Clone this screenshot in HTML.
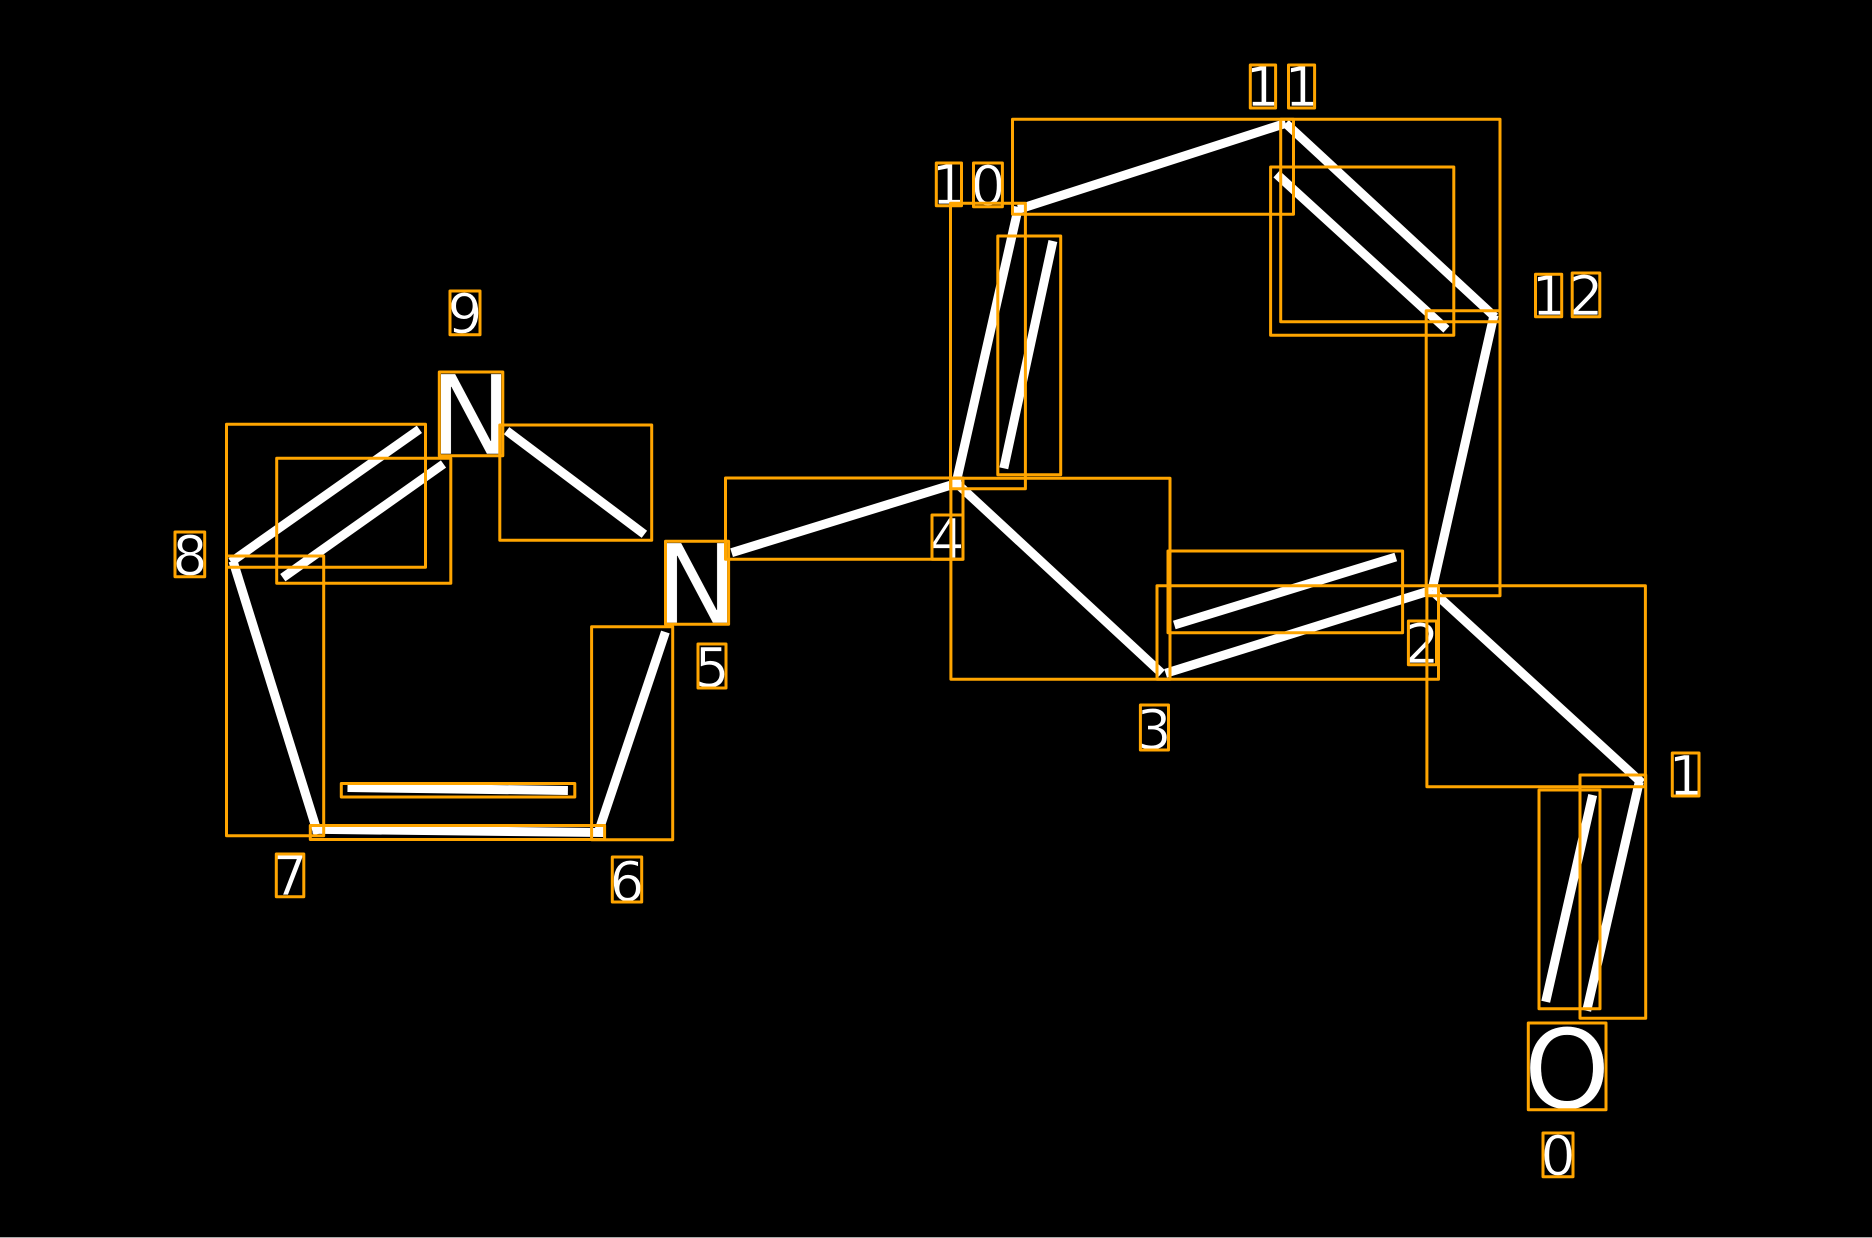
<!DOCTYPE html>
<html><head><meta charset="utf-8"><style>
html,body{margin:0;padding:0;background:#000;width:1872px;height:1238px;overflow:hidden}
svg{display:block}
text{font-family:"DejaVu Sans",sans-serif;fill:#fff;text-anchor:middle;text-rendering:geometricPrecision;stroke:#000}
.d{font-size:55px;stroke-width:.8}.a{font-size:110px;stroke-width:.5}
.b line{stroke:#fff;stroke-width:9;stroke-linecap:butt}
.r rect,.l rect{fill:none;stroke:#FFA500;stroke-width:3;stroke-linejoin:round}
</style></head><body>
<svg width="1872" height="1238" viewBox="0 0 1872 1238" xmlns="http://www.w3.org/2000/svg">
<rect width="1872" height="1238" fill="#000"/>
<rect y="1237" width="1872" height="1" fill="#aaa"/>
<text class="a" x="471" y="454">N</text>
<text class="a" x="697" y="623">N</text>
<text class="a" x="1567" y="1108">O</text>
<text class="d" x="1558" y="1175">0</text>
<text class="d" x="1686" y="795">1</text>
<text class="d" x="1422" y="663">2</text>
<text class="d" x="1154" y="749">3</text>
<text class="d" x="947" y="558">4</text>
<text class="d" x="712" y="687">5</text>
<text class="d" x="627" y="901">6</text>
<text class="d" x="290" y="895">7</text>
<text class="d" x="190" y="575">8</text>
<text class="d" x="465" y="333">9</text>
<text class="d" x="949" y="204">1</text>
<text class="d" x="988" y="205">0</text>
<text class="d" x="1263" y="106">1</text>
<text class="d" x="1302" y="106">1</text>
<text class="d" x="1549" y="315">1</text>
<text class="d" x="1586" y="315">2</text>
<g class="b">
<line x1="1639.3" y1="781.7" x2="1586.7" y2="1010.7"/>
<line x1="1592.7" y1="795" x2="1545.7" y2="1001.7"/>
<line x1="1432" y1="590.7" x2="1642" y2="783"/>
<line x1="1432.2" y1="590" x2="1165.6" y2="673.3"/>
<line x1="1395.8" y1="557" x2="1174.3" y2="625"/>
<line x1="956.7" y1="483.3" x2="1161.7" y2="673.3"/>
<line x1="731.6" y1="552.7" x2="956.7" y2="483.3"/>
<line x1="956" y1="483.3" x2="1018.5" y2="207"/>
<line x1="1003.8" y1="468.3" x2="1052.9" y2="241"/>
<line x1="1018.5" y1="209.3" x2="1285.7" y2="123.3"/>
<line x1="1285.7" y1="123.3" x2="1495" y2="317"/>
<line x1="1276.5" y1="174" x2="1446.4" y2="329.3"/>
<line x1="1494" y1="315" x2="1432" y2="590"/>
<line x1="665.4" y1="632" x2="597.7" y2="834"/>
<line x1="312.6" y1="829.3" x2="603.5" y2="832.5"/>
<line x1="347.5" y1="787.5" x2="567.9" y2="790.5"/>
<line x1="233" y1="561" x2="318" y2="834"/>
<line x1="231" y1="562" x2="419.4" y2="429.3"/>
<line x1="282.8" y1="577.7" x2="443.5" y2="464"/>
<line x1="506.6" y1="430.7" x2="644.4" y2="534.3"/>
</g>
<g class="r">
<rect x="1580" y="775" width="65.7" height="243.3"/>
<rect x="1539" y="790" width="61" height="218.7"/>
<rect x="1426.9" y="585.7" width="218.5" height="201"/>
<rect x="1157" y="585.7" width="281.5" height="93.6"/>
<rect x="1168" y="551" width="234.6" height="81.7"/>
<rect x="950.9" y="478.3" width="219.1" height="201"/>
<rect x="725.5" y="478" width="237.5" height="81.3"/>
<rect x="950.5" y="203.3" width="74.9" height="285.4"/>
<rect x="997.8" y="236" width="62.9" height="238.7"/>
<rect x="1012.5" y="119.3" width="281" height="95"/>
<rect x="1280.7" y="119.3" width="219.3" height="202.4"/>
<rect x="1270.6" y="167" width="183.2" height="168.3"/>
<rect x="1426.2" y="310.7" width="73.8" height="285"/>
<rect x="591.6" y="626.7" width="81.1" height="213"/>
<rect x="310.3" y="825.5" width="294.3" height="14"/>
<rect x="341.3" y="783.5" width="233.5" height="13.5"/>
<rect x="226.5" y="556" width="97.2" height="279.7"/>
<rect x="226.5" y="424.3" width="199" height="143"/>
<rect x="276.7" y="458.3" width="174.1" height="125"/>
<rect x="499.8" y="425" width="151.9" height="115.3"/>
</g>
<g class="l">
<rect x="439.3" y="372" width="63.5" height="83.7"/>
<rect x="665.5" y="541.3" width="63.1" height="83"/>
<rect x="1528.3" y="1023" width="77.7" height="86.7"/>
<rect x="1543" y="1133" width="30" height="43.7"/>
<rect x="1672.3" y="753" width="26.7" height="43"/>
<rect x="1408.4" y="621" width="28.1" height="43.7"/>
<rect x="1140.4" y="705" width="28.1" height="45"/>
<rect x="932" y="515" width="31" height="44.3"/>
<rect x="698" y="644" width="28" height="44"/>
<rect x="612.3" y="857" width="29.4" height="45"/>
<rect x="276.3" y="854" width="27.5" height="42.7"/>
<rect x="175" y="532" width="29.7" height="44.7"/>
<rect x="450" y="291" width="30" height="43.7"/>
<rect x="936.3" y="163" width="25.2" height="42.7"/>
<rect x="973.5" y="163" width="28.9" height="43.7"/>
<rect x="1250.3" y="65" width="25.3" height="43"/>
<rect x="1288.5" y="65" width="26.1" height="43"/>
<rect x="1535.5" y="274.3" width="26.2" height="42.4"/>
<rect x="1572.2" y="273" width="27.6" height="43.7"/>
</g>
</svg>
</body></html>
